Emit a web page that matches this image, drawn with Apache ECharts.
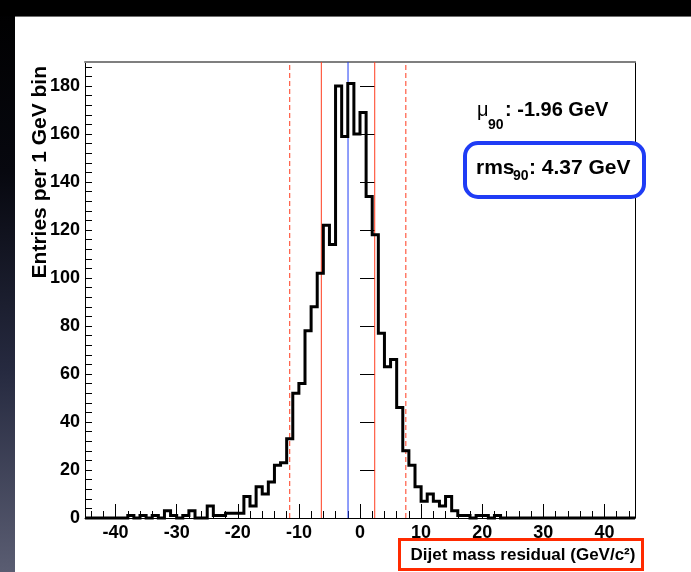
<!DOCTYPE html>
<html>
<head>
<meta charset="utf-8">
<script src="https://cdn.jsdelivr.net/npm/echarts@6/dist/echarts.min.js"></script>
<style>
  html, body { margin: 0; padding: 0; background: #ffffff; }
  #chart { width: 691px; height: 572px; }
</style>
</head>
<body>
<div id="chart"></div>
<script>
// Histogram of the dijet mass residual, 1 GeV bins from -45 to 45 GeV
const binStart = -45;
const binWidth = 1;
const xMin = -45;
const xMax = 45;
const yMin = 0;
const yMax = 190;

// entries per bin, lowest bin first
const counts = [
  0, 0, 0, 0, 0, 0, 0,
  1, 0, 1, 0, 1, 0, 3, 1, 0, 1,
  3, 0, 0, 5, 1, 1, 2, 2, 2, 9,
  5, 13, 10, 15, 22, 23, 33, 52, 56, 78,
  88, 102, 122, 114, 180, 159, 181, 160, 169, 134,
  118, 77, 63, 66, 46, 28, 22, 13, 7, 10,
  7, 5, 9, 3, 1, 1, 0, 1, 1, 0,
  1, 0, 0, 0, 0, 0, 0, 0, 0, 0, 0, 0, 0, 0, 0, 0, 0, 0, 0, 0, 0, 0, 0
];

// axis tick labels
const xTickLabels = [-40, -30, -20, -10, 0, 10, 20, 30, 40];
const yTickLabels = [0, 20, 40, 60, 80, 100, 120, 140, 160, 180];

// mean and rms of the central 90%, and the 90% window edges
const mu90 = -1.96;
const rms90 = 4.37;
const window90 = [-11.5, 7.5];

const FONT = '"Liberation Sans", Arial, Helvetica, sans-serif';

function steps(from, to, step) {
  const out = [];
  for (let v = from; v <= to + 1e-9; v += step) out.push(v);
  return out;
}
const xMinorTicks = steps(-44, 44, 2);
const yMinorTicks = steps(0, 188, 4);

// step outline: one point per lower bin edge plus the closing upper edge
const histData = counts.map((c, i) => [binStart + i * binWidth, c]);
histData.push([binStart + counts.length * binWidth, counts[counts.length - 1]]);

const red = '#ff3b1e';
const blue = '#1f3cf5';

// one full-height vertical reference line at x = value
function refLine(name, value, color, type) {
  return {
    name: name,
    type: 'line',
    xAxisIndex: 0, yAxisIndex: 0,
    data: [[value, yMin], [value, yMax]],
    showSymbol: false,
    symbol: 'none',
    silent: true,
    clip: false,
    z: 1,
    color: color,
    emphasis: { disabled: true },
    lineStyle: { color: color, width: 1, type: type }
  };
}

const chart = echarts.init(document.getElementById('chart'), null, { renderer: 'canvas' });

const option = {
  animation: false,
  backgroundColor: '#ffffff',
  grid: { left: 85, right: 56, top: 62, bottom: 54 },
  xAxis: [
    {
      type: 'value', min: xMin, max: xMax, position: 'bottom',
      axisLine: { show: true, onZero: false, lineStyle: { color: '#000', width: 1 } },
      axisTick: { show: true, inside: true, length: 7, customValues: xMinorTicks, lineStyle: { color: '#000', width: 1 } },
      axisLabel: {
        show: true, customValues: xTickLabels, margin: 6,
        color: '#000', fontFamily: FONT, fontWeight: 'bold', fontSize: 18
      },
      splitLine: { show: false }
    },
    {
      type: 'value', min: xMin, max: xMax, position: 'bottom',
      axisLine: { show: false },
      axisTick: { show: true, inside: true, length: 14, customValues: xTickLabels, lineStyle: { color: '#000', width: 1 } },
      axisLabel: { show: false },
      splitLine: { show: false }
    },
    {
      type: 'value', min: xMin, max: xMax, position: 'top',
      axisLine: { show: true, onZero: false, lineStyle: { color: '#7f7f7f', width: 2 } },
      axisTick: { show: false },
      axisLabel: { show: false },
      splitLine: { show: false }
    }
  ],
  yAxis: [
    {
      type: 'value', min: yMin, max: yMax, position: 'left',
      axisLine: { show: true, onZero: false, lineStyle: { color: '#000', width: 1 } },
      axisTick: { show: true, inside: true, length: 7, customValues: yMinorTicks, lineStyle: { color: '#000', width: 1 } },
      axisLabel: {
        show: true, customValues: yTickLabels, margin: 5,
        color: '#000', fontFamily: FONT, fontWeight: 'bold', fontSize: 18
      },
      splitLine: { show: false }
    },
    {
      type: 'value', min: yMin, max: yMax, position: 'left',
      axisLine: { show: false },
      axisTick: { show: true, inside: true, length: 15, customValues: yTickLabels, lineStyle: { color: '#000', width: 1 } },
      axisLabel: { show: false },
      splitLine: { show: false }
    },
    {
      type: 'value', min: yMin, max: yMax, position: 'right',
      axisLine: { show: true, onZero: false, lineStyle: { color: '#000', width: 1 } },
      axisTick: { show: false },
      axisLabel: { show: false },
      splitLine: { show: false }
    }
  ],
  series: [
    refLine('window90 low', window90[0], red, [5, 3]),
    refLine('window90 high', window90[1], red, [5, 3]),
    refLine('mu90 - rms90', mu90 - rms90, red, 'solid'),
    refLine('mu90 + rms90', mu90 + rms90, red, 'solid'),
    refLine('mu90', mu90, blue, 'solid'),
    {
      name: 'residual',
      type: 'line',
      xAxisIndex: 0, yAxisIndex: 0,
      step: 'end',
      data: histData,
      showSymbol: false,
      symbol: 'none',
      clip: false,
      z: 3,
      color: '#000',
      lineStyle: { color: '#000', width: 3, join: 'miter' }
    }
  ],
  graphic: [
    // dark page edges
    {
      type: 'rect', z: 0, silent: true,
      shape: { x: 0, y: 0, width: 15, height: 572 },
      style: {
        fill: new echarts.graphic.LinearGradient(0, 0, 0, 1, [
          { offset: 0, color: '#000000' },
          { offset: 0.3, color: '#07080f' },
          { offset: 0.65, color: '#262a40' },
          { offset: 1, color: '#5a5d72' }
        ])
      }
    },
    {
      type: 'rect', z: 0, silent: true,
      shape: { x: 0, y: 0, width: 691, height: 16 },
      style: { fill: '#000000' }
    },
    {
      type: 'line', z: 0, silent: true,
      shape: { x1: 15, y1: 16.5, x2: 691, y2: 16.5 },
      style: { stroke: '#6e6e6e', lineWidth: 1 }
    },
    // y axis title
    {
      type: 'text', z: 10, silent: true,
      x: 40, y: 66, rotation: Math.PI / 2,
      style: {
        text: 'Entries per 1 GeV bin',
        font: 'bold 21px ' + FONT,
        fill: '#000', align: 'right', verticalAlign: 'middle'
      }
    },
    // x axis title in its red frame
    {
      type: 'rect', z: 10, silent: true,
      shape: { x: 399.5, y: 539.5, width: 243, height: 30 },
      style: { fill: '#ffffff', stroke: '#ff2a00', lineWidth: 3 }
    },
    {
      type: 'text', z: 11, silent: true,
      x: 523, y: 555,
      style: {
        text: 'Dijet mass residual (GeV/c²)',
        font: 'bold 17px ' + FONT,
        fill: '#000', align: 'center', verticalAlign: 'middle'
      }
    },
    // mean of the central 90%
    {
      type: 'text', z: 11, silent: true,
      x: 477, y: 110,
      style: { text: 'μ', font: '20px ' + FONT, fill: '#000', align: 'left', verticalAlign: 'middle' }
    },
    {
      type: 'text', z: 11, silent: true,
      x: 488, y: 125,
      style: { text: '90', font: 'bold 14px ' + FONT, fill: '#000', align: 'left', verticalAlign: 'middle' }
    },
    {
      type: 'text', z: 11, silent: true,
      x: 505, y: 110,
      style: { text: ': ' + mu90.toFixed(2) + ' GeV', font: 'bold 20px ' + FONT, fill: '#000', align: 'left', verticalAlign: 'middle' }
    },
    // rms of the central 90%, boxed
    {
      type: 'rect', z: 10, silent: true,
      shape: { x: 465, y: 143, width: 179, height: 54, r: 13 },
      style: { fill: '#ffffff', stroke: blue, lineWidth: 4 }
    },
    {
      type: 'text', z: 11, silent: true,
      x: 476, y: 168.5,
      style: { text: 'rms', font: 'bold 21px ' + FONT, fill: '#000', align: 'left', verticalAlign: 'middle' }
    },
    {
      type: 'text', z: 11, silent: true,
      x: 513, y: 176,
      style: { text: '90', font: 'bold 14px ' + FONT, fill: '#000', align: 'left', verticalAlign: 'middle' }
    },
    {
      type: 'text', z: 11, silent: true,
      x: 529, y: 168.5,
      style: { text: ': ' + rms90.toFixed(2) + ' GeV', font: 'bold 21px ' + FONT, fill: '#000', align: 'left', verticalAlign: 'middle' }
    }
  ]
};

chart.setOption(option);
</script>
</body>
</html>
